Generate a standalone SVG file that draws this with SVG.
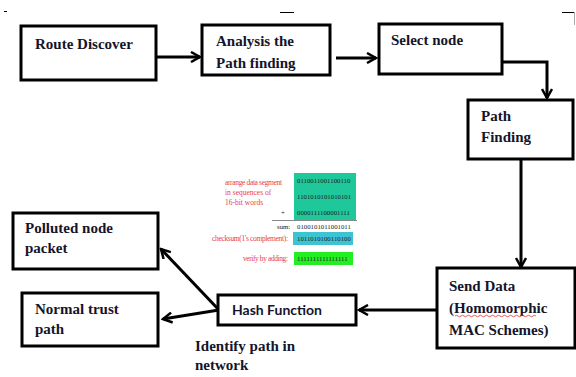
<svg xmlns="http://www.w3.org/2000/svg" width="576" height="377" viewBox="0 0 576 377">
<style>
.box{fill:#fff;stroke:#000;stroke-width:3}
.t{font-family:"Liberation Serif",serif;font-weight:bold;font-size:15px;fill:#14142a}
.h{font-family:Lato,"Open Sans",sans-serif;font-weight:bold;font-size:14px;fill:#14142a}
.c{fill:none;stroke:#000;stroke-width:3}
.s{font-family:"Liberation Serif",serif;font-size:6.8px;fill:#222}
.r{font-family:"Liberation Serif",serif;font-size:7.5px;fill:#e8404a}
</style>
<defs>
<marker id="ah" markerUnits="userSpaceOnUse" viewBox="0 0 12 12" refX="10" refY="6" markerWidth="12" markerHeight="12" orient="auto">
<path d="M1,1 L10,6 L1,11" fill="none" stroke="#000" stroke-width="2.5"/>
</marker>
</defs>
<rect width="576" height="377" fill="#fff"/>
<g id="marks" stroke="#000" stroke-width="1">
<line x1="4" y1="11.5" x2="7" y2="11.5"/>
<line x1="280" y1="12.5" x2="294" y2="12.5"/>
<line x1="562" y1="12.5" x2="575" y2="12.5"/>
<line x1="574.5" y1="12" x2="574.5" y2="25" stroke="#aaa"/>
</g>
<g id="connectors">
<path class="c" d="M156,57 L200,57" marker-end="url(#ah)"/>
<path class="c" d="M336,58 L376,58" marker-end="url(#ah)"/>
<path class="c" d="M502,62 L547,62 L547,98" marker-end="url(#ah)"/>
<path class="c" d="M521,159 L521,267" stroke-width="1.5" marker-end="url(#ah)"/>
<path class="c" d="M437,310 L359,310" marker-end="url(#ah)"/>
<path class="c" d="M219,310 L161,249" stroke-width="2.5" marker-end="url(#ah)"/>
<path class="c" d="M219,310 L163,319" stroke-width="2.5" marker-end="url(#ah)"/>
</g>
<g id="route-discover">
<rect class="box" x="21" y="26" width="135" height="54"/>
<text class="t" x="35" y="49">Route Discover</text>
</g>
<g id="analysis">
<rect class="box" x="202" y="25" width="128" height="50"/>
<text class="t" x="216" y="46">Analysis the</text>
<text class="t" x="216" y="68">Path finding</text>
</g>
<g id="select-node">
<rect class="box" x="379" y="24" width="123" height="50"/>
<text class="t" x="391" y="45">Select node</text>
</g>
<g id="path-finding">
<rect class="box" x="468" y="100" width="105" height="59"/>
<text class="t" x="481" y="121">Path</text>
<text class="t" x="481" y="142">Finding</text>
</g>
<g id="send-data">
<rect class="box" x="437" y="268" width="138" height="80"/>
<text class="t" x="449" y="291">Send Data</text>
<text class="t" x="449" y="313">(Homomorphic</text>
<path d="M455,316 q1.5,-1.5 3,0 t3,0 t3,0 t3,0 t3,0 t3,0 t3,0 t3,0 t3,0 t3,0 t3,0 t3,0 t3,0 t3,0 t3,0 t3,0 t3,0 t3,0 t3,0 t3,0 t3,0 t3,0 t3,0 t3,0 t3,0 t3,0 t3,0" fill="none" stroke="#e03030" stroke-width="0.8"/>
<text class="t" x="449" y="335">MAC Schemes)</text>
</g>
<g id="hash-function">
<rect class="box" x="218" y="295" width="138" height="30"/>
<text class="h" x="232" y="315" textLength="90" lengthAdjust="spacingAndGlyphs">Hash Function</text>
</g>
<g id="polluted">
<rect class="box" x="13" y="213" width="145" height="56"/>
<text class="t" x="25" y="233">Polluted node</text>
<text class="t" x="25" y="253">packet</text>
</g>
<g id="normal">
<rect class="box" x="22" y="293" width="136" height="53"/>
<text class="t" x="35" y="314">Normal trust</text>
<text class="t" x="35" y="334">path</text>
</g>
<g id="identify">
<text class="t" x="195" y="351">Identify path in</text>
<text class="t" x="195" y="370">network</text>
</g>
<g id="checksum">
<rect x="294" y="173" width="62" height="47" fill="#1ec89a"/>
<text class="s" x="297" y="182.5">0110011001100110</text>
<text class="s" x="297" y="199">1101010101010101</text>
<text class="s" x="297" y="215">0000111100001111</text>
<text class="r" x="225" y="185" textLength="57">arrange data segment</text>
<text class="r" x="225" y="195">in sequences of</text>
<text class="r" x="225" y="205">16-bit words</text>
<text class="s" x="281" y="215">+</text>
<line x1="272" y1="220.5" x2="357" y2="220.5" stroke="#555" stroke-width="0.7"/>
<text class="s" x="277" y="229">sum:</text>
<text class="s" x="297" y="229">0100101011001011</text>
<rect x="293" y="232" width="60" height="13" fill="#3cc4d2"/>
<text class="r" x="212" y="241" textLength="76">checksum(1's complement):</text>
<text class="s" x="297" y="241">1011010100110100</text>
<rect x="294" y="252" width="59" height="13" fill="#22ee22"/>
<text class="r" x="243" y="261" textLength="45">verify by adding:</text>
<text class="s" x="297" y="261">1111111111111111</text>
</g>
</svg>
